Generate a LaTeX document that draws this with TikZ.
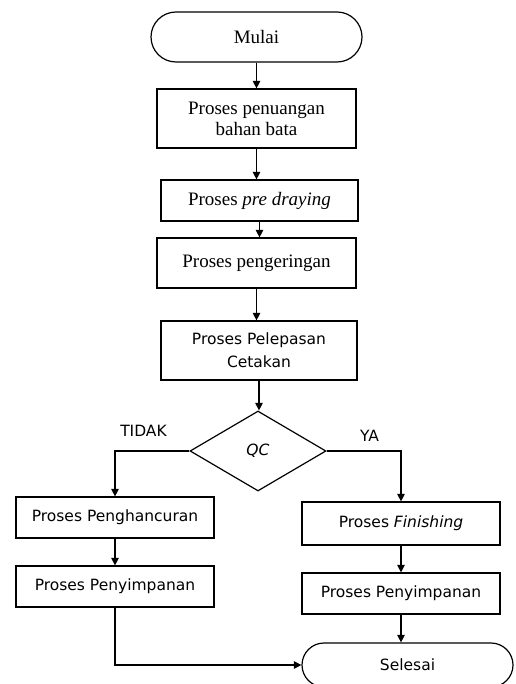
\documentclass[tikz,border=0pt]{standalone}
\usepackage{fontspec}
\setmainfont{Liberation Serif}
\newfontfamily\flowsans{DejaVu Sans}
\usetikzlibrary{shapes.geometric,arrows.meta}

\begin{document}
\begin{tikzpicture}[
    x=1pt, y=1pt,
    serif/.style={font=\fontsize{19}{21}\selectfont},
    sans/.style={font=\flowsans\fontsize{15.5}{23}\selectfont},
    terminal/.style={rectangle, draw, line width=1.2pt, minimum width=211pt, align=center},
    box/.style={rectangle, draw, line width=1.2pt, align=center, inner sep=1pt},
    decision/.style={diamond, draw, line width=1.2pt, minimum width=136pt, minimum height=80pt, inner sep=0pt},
    arrow/.style={-{Triangle[length=7.5pt,width=7.5pt]}, line width=1.2pt}
]
    \useasboundingbox (0,0) rectangle (515,-684);

    % kolom utama
    \node[terminal, serif, minimum height=50pt, rounded corners=25pt] (mulai) at (256.5,-37) {Mulai};
    \node[box, serif, minimum width=199pt, minimum height=59pt] (penuangan) at (256.5,-118.5) {Proses penuangan\\bahan bata};
    \node[box, serif, minimum width=197pt, minimum height=41pt] (predrying) at (259.5,-200.5) {Proses \textit{pre draying}};
    \node[box, serif, minimum width=199pt, minimum height=50pt] (pengeringan) at (256.5,-263) {Proses pengeringan};
    \node[box, sans, minimum width=196pt, minimum height=59pt] (pelepasan) at (259,-350.5) {Proses Pelepasan\\Cetakan};
    \node[decision, sans] (qc) at (258,-451) {\textit{QC}};

    % cabang
    \node[sans] (tidak) at (143.5,-431) {TIDAK};
    \node[sans] (ya) at (369.5,-436) {YA};
    \node[box, sans, minimum width=198pt, minimum height=41pt] (hancur) at (115,-517.5) {Proses Penghancuran};
    \node[box, sans, minimum width=198pt, minimum height=41pt] (simpankiri) at (115,-586.5) {Proses Penyimpanan};
    \node[box, sans, minimum width=198pt, minimum height=43pt] (finishing) at (401,-523.5) {Proses \textit{Finishing}};
    \node[box, sans, minimum width=198pt, minimum height=41pt] (simpankanan) at (401,-593.5) {Proses Penyimpanan};
    \node[terminal, sans, minimum height=44pt, rounded corners=22pt] (selesai) at (407.5,-665) {Selesai};

    \draw[arrow] (mulai.south) -- (mulai.south |- penuangan.north);
    \draw[arrow] (penuangan.south) -- (penuangan.south |- predrying.north);
    \draw[arrow] (predrying.south) -- (predrying.south |- pengeringan.north);
    \draw[arrow] (pengeringan.south) -- (pengeringan.south |- pelepasan.north);
    \draw[arrow] (pelepasan.south) -- (pelepasan.south |- qc.north);
    \draw[arrow] (qc.west) -| (hancur.north);
    \draw[arrow] (qc.east) -| (finishing.north);
    \draw[arrow] (hancur) -- (simpankiri);
    \draw[arrow] (finishing) -- (simpankanan);
    \draw[arrow] (simpankanan.south) -- (simpankanan.south |- selesai.north);
    \draw[arrow] (simpankiri.south) |- (selesai.west);
\end{tikzpicture}
\end{document}
